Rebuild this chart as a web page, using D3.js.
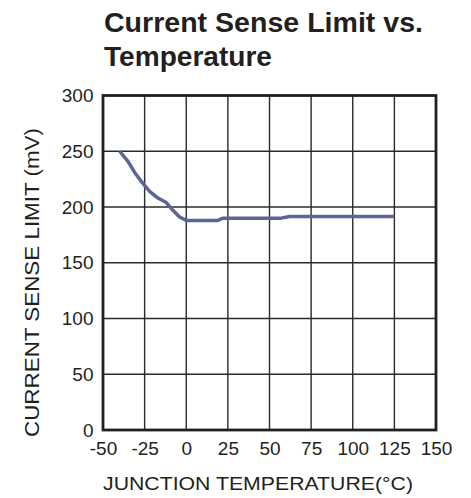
<!DOCTYPE html>
<html>
<head>
<meta charset="utf-8">
<script src="https://cdn.jsdelivr.net/npm/d3@7"></script>
<style>
  body { margin: 0; background: #fff; }
  text { font-family: "Liberation Sans", Arial, sans-serif; fill: #231f20; }
</style>
</head>
<body>
<div id="chart"></div>
<script>
// readings
const temps = [-40, -35, -31, -27, -22, -17, -12, -8, -4, 0, 10, 19, 22, 40, 57, 62, 90, 125];
const limits = [250, 241, 231, 223, 214, 208, 204, 197, 191, 188, 188, 188, 190, 190, 190, 191.5, 191.5, 191.5];
const xTicks = [-50, -25, 0, 25, 50, 75, 100, 125, 150];
const yTicks = [0, 50, 100, 150, 200, 250, 300];

const width = 471, height = 498;
const margin = { left: 103, top: 95.5, right: 471 - 436, bottom: 498 - 430 };

const svg = d3.select("#chart").append("svg")
    .attr("width", width)
    .attr("height", height);

const x = d3.scaleLinear().domain([-50, 150]).range([margin.left, width - margin.right]);
const y = d3.scaleLinear().domain([0, 300]).range([height - margin.bottom, margin.top]);

// title
svg.append("text")
    .attr("x", 104).attr("y", 32)
    .attr("textLength", 319).attr("lengthAdjust", "spacingAndGlyphs")
    .style("font-size", "27px").style("font-weight", "bold")
    .text("Current Sense Limit vs.");
svg.append("text")
    .attr("x", 104).attr("y", 66)
    .attr("textLength", 168).attr("lengthAdjust", "spacingAndGlyphs")
    .style("font-size", "27px").style("font-weight", "bold")
    .text("Temperature");

// grid
let grid = svg.append("g").attr("stroke", "#2b2b2b").attr("stroke-width", 1.4);
grid.selectAll("line.v")
    .data(xTicks.slice(1, -1))
    .enter().append("line")
    .attr("x1", d => x(d)).attr("x2", d => x(d))
    .attr("y1", y(300)).attr("y2", y(0));
grid.selectAll("line.h")
    .data(yTicks.slice(1, -1))
    .enter().append("line")
    .attr("x1", x(-50)).attr("x2", x(150))
    .attr("y1", d => y(d)).attr("y2", d => y(d));

// frame
svg.append("rect")
    .attr("x", x(-50)).attr("y", y(300))
    .attr("width", x(150) - x(-50))
    .attr("height", y(0) - y(300))
    .attr("fill", "none")
    .attr("stroke", "#231f20")
    .attr("stroke-width", 2.8);

// tick labels via d3 axes, no lines
let xAxis = svg.append("g")
    .attr("transform", `translate(0,${y(0)})`)
    .call(d3.axisBottom(x).tickValues(xTicks).tickFormat(d => String(d)).tickSize(0).tickPadding(11.5));
xAxis.select(".domain").remove();
xAxis.selectAll("text").style("font-size", "19px").attr("font-family", null);

let yAxis = svg.append("g")
    .attr("transform", `translate(${x(-50)},0)`)
    .call(d3.axisLeft(y).tickValues(yTicks).tickFormat(d => String(d)).tickSize(0).tickPadding(9.5));
yAxis.select(".domain").remove();
yAxis.selectAll("text").style("font-size", "19px").attr("font-family", null);

svg.append("text")
    .attr("x", 258).attr("y", 490)
    .attr("text-anchor", "middle")
    .attr("textLength", 310).attr("lengthAdjust", "spacingAndGlyphs")
    .style("font-size", "18.6px")
    .text("JUNCTION TEMPERATURE(°C)");

svg.append("text")
    .attr("transform", `translate(38.5,282.5) rotate(-90)`)
    .attr("text-anchor", "middle")
    .attr("textLength", 309).attr("lengthAdjust", "spacingAndGlyphs")
    .style("font-size", "21px")
    .text("CURRENT SENSE LIMIT (mV)");

// curve
const line = d3.line().x(d => x(d[0])).y(d => y(d[1]));
svg.append("path")
    .datum(temps.map((t, i) => [t, limits[i]]))
    .attr("d", line)
    .attr("fill", "none")
    .attr("stroke", "#5d6497")
    .attr("stroke-width", 3.5)
    .attr("stroke-linejoin", "round");
</script>
</body>
</html>
